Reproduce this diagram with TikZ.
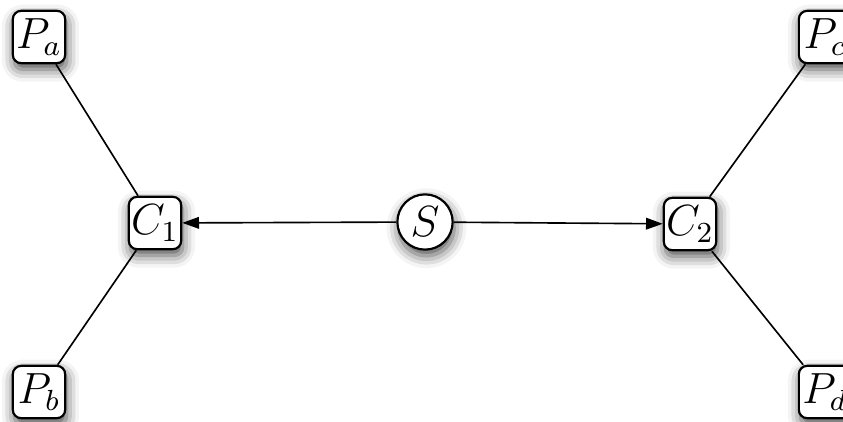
\documentclass[tikz,border=0pt]{standalone}
\usetikzlibrary{arrows.meta,shadows.blur}
\begin{document}
\begin{tikzpicture}[x=0.275pt,y=-0.275pt,
  shad/.style={blur shadow={shadow xshift=0.4pt,shadow yshift=-1.7pt,shadow blur radius=3.4pt,shadow opacity=70}},
  pbox/.style={draw,line width=0.6pt,rounded corners=2.3pt,fill=white,minimum size=14.4pt,inner sep=0.3pt,font=\large,shad},
  sbox/.style={draw,line width=0.6pt,circle,fill=white,minimum size=15.2pt,inner sep=0.3pt,font=\large,shad},
  link/.style={line width=0.45pt},
  arr/.style={line width=0.45pt,-{Triangle[length=4.6pt,width=3.2pt]}}]
\useasboundingbox (0,0) rectangle (843,421);
\clip (0,0) rectangle (843,421);
\node[pbox] (pa) at (39,37) {$P_a$};
\node[pbox] (pb) at (39,392) {$P_b$};
\node[pbox] (c1) at (155,223) {$C_1$};
\node[sbox] (s) at (425,222) {$S$};
\node[pbox] (c2) at (690,224) {$C_2$};
\node[pbox] (pc) at (825,37) {$P_c$};
\node[pbox] (pd) at (825,392) {$P_d$};
\draw[link] (pa) -- (c1);
\draw[link] (pb) -- (c1);
\draw[link] (pc) -- (c2);
\draw[link] (pd) -- (c2);
\draw[arr] (s) -- (c1);
\draw[arr] (s) -- (c2);
\end{tikzpicture}
\end{document}
